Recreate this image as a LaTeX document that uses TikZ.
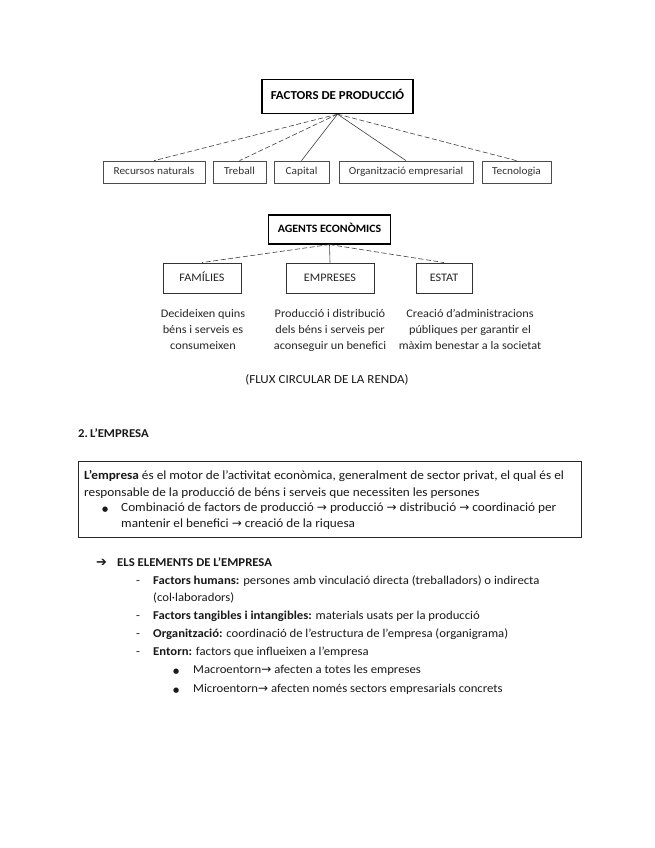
\documentclass[tikz,border=0pt]{standalone}
\usepackage{fontspec}
\setmainfont{Carlito}[FakeStretch=1.06]
\newfontfamily\djv{DejaVu Sans}
\newcommand{\rarr}{{\djv\fontsize{12}{12}\selectfont →}}
\newcommand{\blt}{{\djv\fontsize{7}{8}\selectfont ●}}
\begin{document}
\begin{tikzpicture}[x=1pt,y=-1pt,
  bigbox/.style={draw=black,line width=1.3pt,inner sep=0pt,text height=1.6ex,text depth=0.3ex,font=\fontsize{12.2}{14}\selectfont\bfseries},
  smallbox/.style={draw=black!70,line width=0.7pt,inner sep=0pt,text height=1.6ex,text depth=0.4ex,font=\fontsize{10.7}{12}\selectfont,text=black!80},
  midbox/.style={draw=black!80,line width=0.9pt,inner sep=0pt,text height=1.6ex,text depth=0.3ex,font=\fontsize{11.5}{13}\selectfont,text=black!85},
  dashconn/.style={draw=black!75,line width=0.6pt,dash pattern=on 5pt off 2.5pt},
  solconn/.style={draw=black!75,line width=0.6pt},
  desc/.style={align=center,font=\fontsize{11.6}{16}\selectfont,text=black!85,inner sep=0pt},
  body/.style={anchor=base west,inner sep=0pt,font=\fontsize{12}{14}\selectfont,text=black!90},
  boxbody/.style={body,font=\fontsize{12.5}{14}\selectfont}
]
\useasboundingbox[fill=white] (0,0) rectangle (655,848);

% ---- Factors de producció
\node[bigbox,minimum width=151pt,minimum height=34pt] (fp) at (337.5,96.5) {FACTORS DE PRODUCCIÓ};
\node[smallbox,minimum width=102pt,minimum height=22pt] (rn) at (154,172) {Recursos naturals};
\node[smallbox,minimum width=53pt,minimum height=22pt] (tr) at (239.5,172) {Treball};
\node[smallbox,minimum width=55pt,minimum height=22pt] (ca) at (301.5,172) {Capital};
\node[smallbox,minimum width=134pt,minimum height=22pt] (oe) at (406,172) {Organització empresarial};
\node[smallbox,minimum width=69pt,minimum height=22pt] (te) at (516.5,172) {Tecnologia};
\draw[dashconn] (fp.south) -- (rn.north);
\draw[dashconn] (fp.south) -- (tr.north);
\draw[solconn] (fp.south) -- (ca.north);
\draw[solconn] (fp.south) -- (oe.north);
\draw[dashconn] (fp.south) -- (te.north);

% ---- Agents econòmics
\node[bigbox,line width=1.1pt,font=\fontsize{11.2}{13}\selectfont\bfseries,minimum width=122pt,minimum height=29pt] (ae) at (329.5,229.5) {AGENTS ECONÒMICS};
\node[midbox,minimum width=78pt,minimum height=30pt] (fa) at (202,278) {FAMÍLIES};
\node[midbox,minimum width=88pt,minimum height=30pt] (em) at (330,278) {EMPRESES};
\node[midbox,minimum width=56pt,minimum height=30pt] (es) at (444,278) {ESTAT};
\draw[dashconn] (ae.south) -- (fa.north);
\draw[solconn] (ae.south) -- (em.north);
\draw[dashconn] (ae.south) -- (es.north);

\node[desc,anchor=north] (dfa) at (203,309) {Decideixen quins\\béns i serveis es\\consumeixen};
\node[desc,anchor=north] (dem) at (330,309) {Producció i distribució\\dels béns i serveis per\\aconseguir un benefici};
\node[desc,anchor=north] (des) at (470,309) {Creació d’administracions\\públiques per garantir el\\màxim benestar a la societat};

\node[body,anchor=base,font=\fontsize{12.3}{14}\selectfont] (flux) at (327,383) {(FLUX CIRCULAR DE LA RENDA)};

% ---- 2. L'empresa
\node[body] (tit) at (78,437) {\bfseries 2.\,L’EMPRESA};
\draw[draw=black!85,line width=0.9pt] (78,461) rectangle (581,537);
\node[boxbody] (l1) at (84,479) {\textbf{L’empresa} és el motor de l’activitat econòmica, generalment de sector privat, el qual és el};
\node[boxbody] (l2) at (84,496) {responsable de la producció de béns i serveis que necessiten les persones};
\node[body] (b1) at (102,511) {\blt};
\node[boxbody] (l3) at (121,511) {Combinació de factors de producció \rarr{} producció \rarr{} distribució \rarr{} coordinació per};
\node[boxbody] (l4) at (121,527) {mantenir el benefici \rarr{} creació de la riquesa};

% ---- Els elements
\node[body] (ar) at (96,566) {{\djv\fontsize{13}{13}\selectfont ➔}};
\node[body] (ee) at (117,566) {\bfseries ELS ELEMENTS DE L’EMPRESA};
\node[body] (d1) at (136,584) {-};
\node[body] (e1) at (153,584) {\textbf{Factors humans:} persones amb vinculació directa (treballadors) o indirecta};
\node[body] (e1b) at (153,601) {(col·laboradors)};
\node[body] (d2) at (136,619) {-};
\node[body] (e2) at (153,619) {\textbf{Factors tangibles i intangibles:} materials usats per la producció};
\node[body] (d3) at (136,637) {-};
\node[body] (e3) at (153,637) {\textbf{Organització:} coordinació de l’estructura de l’empresa (organigrama)};
\node[body] (d4) at (136,655) {-};
\node[body] (e4) at (153,655) {\textbf{Entorn:} factors que influeixen a l’empresa};
\node[body] (b2) at (173,673) {\blt};
\node[body] (e5) at (193,673) {Macroentorn\rarr{} afecten a totes les empreses};
\node[body] (b3) at (173,692) {\blt};
\node[body] (e6) at (193,692) {Microentorn\rarr{} afecten només sectors empresarials concrets};
\end{tikzpicture}
\end{document}
